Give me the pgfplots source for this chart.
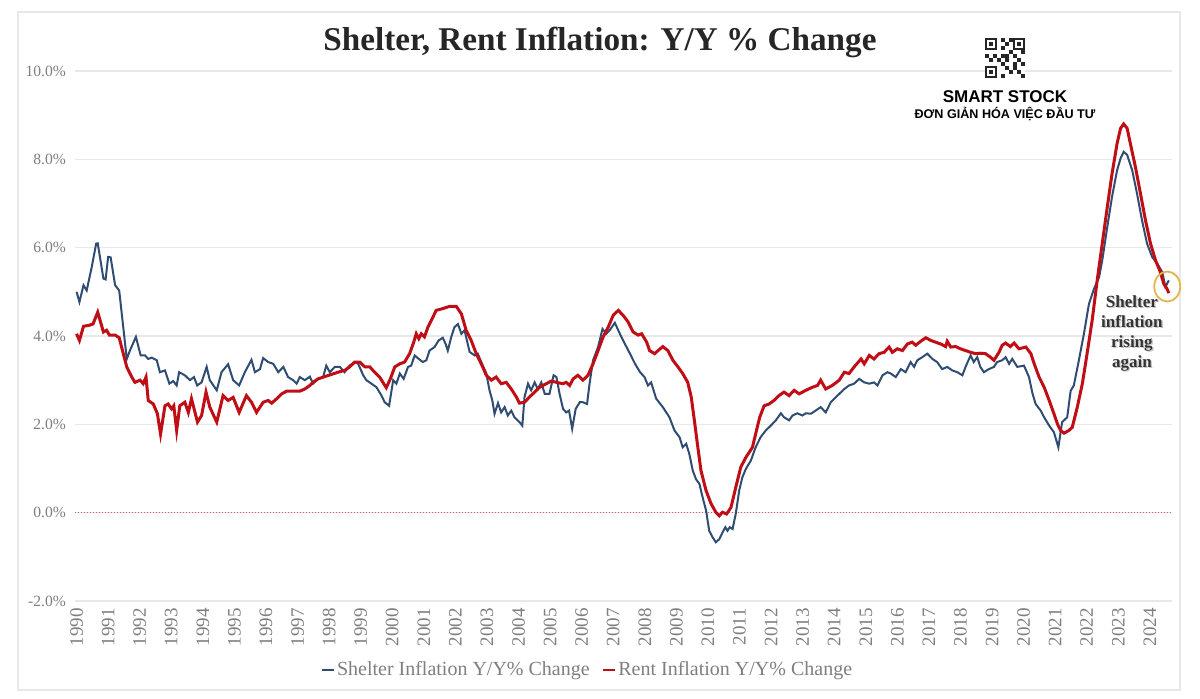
\documentclass[border=0pt]{standalone}
\usepackage{fontspec}
\setmainfont{Liberation Serif}
\newfontfamily\vnfont{Liberation Sans}
\usepackage{pgfplots}
\pgfplotsset{compat=1.18}
\definecolor{shelterblue}{HTML}{2F4D72}
\definecolor{rentred}{HTML}{C00E16}
\definecolor{ticktext}{HTML}{7F7F7F}
\definecolor{gridc}{HTML}{E8E8E8}
\definecolor{ringc}{HTML}{E2B64A}
\begin{document}
\begin{tikzpicture}
\useasboundingbox (-37.5pt,-49pt) rectangle (562.5pt,300.5pt);
\fill[white] (-37.5pt,-49pt) rectangle (562.5pt,300.5pt);
\draw[gray!18, line width=0.8pt] (-28.5pt,-44.5pt) rectangle (552.5pt,294.5pt);
\begin{axis}[
  at={(0,0)}, anchor=south west,
  scale only axis, width=548.5pt, height=265pt,
  xmin=1989.95, xmax=2024.7, ymin=-2, ymax=10, clip=false,
  axis line style={draw=none}, tick style={draw=none},
  ytick={-2,0,2,4,6,8,10},
  yticklabels={-2.0\%,0.0\%,2.0\%,4.0\%,6.0\%,8.0\%,10.0\%},
  yticklabel style={font=\fontsize{7.8}{8}\selectfont, text=ticktext, xshift=-1pt},
  xtick={1990,1991,1992,1993,1994,1995,1996,1997,1998,1999,2000,2001,2002,2003,2004,2005,2006,2007,2008,2009,2010,2011,2012,2013,2014,2015,2016,2017,2018,2019,2020,2021,2022,2023,2024},
  xticklabels={1990,1991,1992,1993,1994,1995,1996,1997,1998,1999,2000,2001,2002,2003,2004,2005,2006,2007,2008,2009,2010,2011,2012,2013,2014,2015,2016,2017,2018,2019,2020,2021,2022,2023,2024},
  xticklabel style={font=\fontsize{9.5}{10}\selectfont, text=ticktext, rotate=90, anchor=east},
  ymajorgrids, grid style={gridc, line width=0.6pt},
  legend style={at={(0.467,-0.13)}, anchor=center, draw=none, fill=none,
     font=\fontsize{10}{11}\selectfont, text=ticktext,
     /tikz/every even column/.append style={column sep=5pt},
     nodes={inner xsep=1pt}},
  legend columns=2, legend cell align=left,
  legend image code/.code={\draw[#1, line width=1.3pt] (0pt,0pt) -- (6pt,0pt);},
]
\draw[rentred!70, densely dotted, line width=0.5pt] (axis cs:1989.95,0) -- (axis cs:2024.7,0);
\addplot[shelterblue, line width=1pt] coordinates {
(1990.00,5.00)(1990.09,4.77)(1990.22,5.15)(1990.32,5.03)(1990.48,5.56)(1990.62,6.09)(1990.67,6.10)
(1990.85,5.30)(1990.92,5.28)(1991.00,5.79)(1991.08,5.78)(1991.22,5.15)(1991.35,5.03)(1991.59,3.48)
(1991.69,3.67)(1991.88,3.98)(1992.03,3.56)(1992.17,3.56)(1992.27,3.48)(1992.38,3.51)(1992.54,3.45)
(1992.64,3.18)(1992.80,3.22)(1992.94,2.92)(1993.06,2.98)(1993.17,2.88)(1993.25,3.18)(1993.43,3.11)
(1993.59,3.00)(1993.72,3.07)(1993.82,2.88)(1993.96,2.95)(1994.12,3.30)(1994.22,3.00)(1994.44,2.77)
(1994.59,3.18)(1994.80,3.36)(1994.96,3.00)(1995.15,2.88)(1995.33,3.18)(1995.54,3.46)(1995.65,3.18)
(1995.81,3.25)(1995.91,3.50)(1996.07,3.41)(1996.23,3.37)(1996.39,3.18)(1996.55,3.30)(1996.70,3.07)
(1996.86,3.00)(1996.97,2.92)(1997.07,3.07)(1997.23,3.00)(1997.39,3.08)(1997.49,2.92)(1997.65,3.03)
(1997.81,3.07)(1997.91,3.33)(1998.02,3.18)(1998.18,3.30)(1998.34,3.30)(1998.49,3.18)(1998.65,3.33)
(1998.81,3.41)(1998.92,3.37)(1999.08,3.11)(1999.18,3.00)(1999.34,2.92)(1999.50,2.84)(1999.66,2.65)
(1999.76,2.50)(1999.90,2.42)(2000.03,3.00)(2000.13,2.92)(2000.24,3.15)(2000.36,3.03)(2000.50,3.30)
(2000.60,3.33)(2000.71,3.56)(2000.84,3.48)(2000.97,3.41)(2001.08,3.45)(2001.18,3.67)(2001.34,3.75)
(2001.47,3.90)(2001.60,3.96)(2001.69,3.82)(2001.76,3.67)(2001.87,3.98)(2001.97,4.20)(2002.08,4.27)
(2002.19,4.05)(2002.29,4.13)(2002.45,3.64)(2002.61,3.56)(2002.71,3.60)(2002.82,3.41)(2002.98,3.15)
(2003.08,2.77)(2003.17,2.54)(2003.24,2.24)(2003.35,2.48)(2003.45,2.27)(2003.56,2.39)(2003.66,2.20)
(2003.77,2.31)(2003.87,2.16)(2004.03,2.05)(2004.12,1.97)(2004.19,2.62)(2004.30,2.92)(2004.40,2.77)
(2004.51,2.95)(2004.61,2.80)(2004.72,2.95)(2004.83,2.69)(2004.98,2.69)(2005.11,3.11)(2005.20,3.07)
(2005.30,2.69)(2005.41,2.35)(2005.51,2.27)(2005.60,2.31)(2005.70,1.90)(2005.81,2.35)(2005.94,2.50)
(2006.04,2.50)(2006.17,2.46)(2006.25,2.92)(2006.36,3.45)(2006.52,3.75)(2006.66,4.16)(2006.78,4.05)
(2006.89,4.13)(2007.05,4.30)(2007.21,4.05)(2007.37,3.82)(2007.53,3.60)(2007.69,3.37)(2007.85,3.18)
(2007.99,3.07)(2008.10,2.88)(2008.20,2.95)(2008.36,2.58)(2008.57,2.39)(2008.78,2.16)(2008.94,1.86)
(2009.10,1.71)(2009.20,1.48)(2009.31,1.56)(2009.41,1.33)(2009.52,0.95)(2009.62,0.76)(2009.73,0.65)
(2009.83,0.35)(2009.94,0.05)(2010.04,-0.41)(2010.15,-0.56)(2010.25,-0.67)(2010.36,-0.60)(2010.46,-0.45)
(2010.55,-0.33)(2010.62,-0.41)(2010.69,-0.33)(2010.78,-0.37)(2010.88,-0.03)(2010.99,0.50)(2011.09,0.80)
(2011.20,0.99)(2011.36,1.18)(2011.51,1.48)(2011.67,1.71)(2011.83,1.86)(2011.99,1.97)(2012.15,2.09)
(2012.31,2.25)(2012.41,2.16)(2012.57,2.09)(2012.68,2.20)(2012.83,2.25)(2012.99,2.20)(2013.10,2.25)
(2013.26,2.24)(2013.41,2.31)(2013.57,2.39)(2013.73,2.27)(2013.89,2.50)(2014.00,2.58)(2014.16,2.69)
(2014.32,2.80)(2014.47,2.88)(2014.63,2.92)(2014.79,3.03)(2014.95,2.95)(2015.11,2.92)(2015.26,2.95)
(2015.37,2.88)(2015.53,3.11)(2015.69,3.18)(2015.79,3.15)(2015.95,3.07)(2016.11,3.25)(2016.26,3.18)
(2016.42,3.41)(2016.53,3.30)(2016.63,3.45)(2016.79,3.52)(2016.95,3.60)(2017.11,3.48)(2017.26,3.41)
(2017.42,3.25)(2017.58,3.30)(2017.74,3.22)(2017.90,3.18)(2018.06,3.11)(2018.16,3.30)(2018.32,3.56)
(2018.42,3.41)(2018.53,3.52)(2018.63,3.30)(2018.74,3.18)(2018.90,3.25)(2019.06,3.30)(2019.16,3.41)
(2019.32,3.45)(2019.43,3.52)(2019.54,3.37)(2019.64,3.48)(2019.80,3.30)(2020.01,3.33)(2020.17,3.07)
(2020.28,2.70)(2020.38,2.46)(2020.54,2.31)(2020.65,2.16)(2020.81,1.97)(2020.96,1.82)(2021.10,1.48)
(2021.22,2.05)(2021.38,2.16)(2021.49,2.76)(2021.59,2.88)(2021.75,3.45)(2021.91,4.05)(2022.07,4.73)
(2022.23,5.07)(2022.39,5.33)(2022.49,5.71)(2022.65,6.47)(2022.80,7.15)(2022.96,7.75)(2023.07,8.02)
(2023.17,8.17)(2023.28,8.10)(2023.44,7.75)(2023.59,7.23)(2023.75,6.62)(2023.91,6.09)(2024.07,5.79)
(2024.23,5.64)(2024.39,5.45)(2024.49,5.11)(2024.60,5.26)
};
\addlegendentry{Shelter Inflation Y/Y\% Change}
\addplot[rentred, line width=1.5pt] coordinates {
(1990.00,4.05)(1990.09,3.90)(1990.22,4.22)(1990.38,4.24)(1990.52,4.27)(1990.67,4.54)(1990.85,4.09)
(1990.95,4.13)(1991.04,4.02)(1991.22,4.02)(1991.35,3.96)(1991.48,3.60)(1991.59,3.30)(1991.67,3.18)
(1991.75,3.07)(1991.85,2.95)(1992.01,3.00)(1992.11,2.92)(1992.20,3.07)(1992.27,2.54)(1992.43,2.46)
(1992.56,2.24)(1992.66,1.78)(1992.80,2.42)(1992.90,2.46)(1993.01,2.35)(1993.08,2.42)(1993.17,1.86)
(1993.27,2.42)(1993.43,2.50)(1993.54,2.27)(1993.64,2.58)(1993.83,2.05)(1993.96,2.20)(1994.10,2.73)
(1994.22,2.39)(1994.44,2.05)(1994.64,2.65)(1994.80,2.54)(1994.96,2.61)(1995.15,2.27)(1995.38,2.65)
(1995.54,2.50)(1995.70,2.27)(1995.91,2.50)(1996.07,2.54)(1996.18,2.48)(1996.34,2.58)(1996.50,2.69)
(1996.65,2.75)(1996.86,2.75)(1997.07,2.75)(1997.23,2.80)(1997.39,2.88)(1997.49,2.95)(1997.65,3.03)
(1997.86,3.08)(1998.07,3.13)(1998.28,3.18)(1998.49,3.22)(1998.65,3.30)(1998.81,3.41)(1998.97,3.41)
(1999.13,3.30)(1999.29,3.30)(1999.44,3.18)(1999.60,3.07)(1999.73,2.92)(1999.81,2.83)(1999.94,3.03)
(2000.08,3.30)(2000.24,3.37)(2000.39,3.41)(2000.55,3.60)(2000.68,3.86)(2000.76,4.05)(2000.84,3.94)
(2000.92,4.05)(2001.02,3.98)(2001.13,4.20)(2001.29,4.43)(2001.39,4.58)(2001.60,4.62)(2001.81,4.67)
(2002.03,4.67)(2002.19,4.50)(2002.34,4.13)(2002.50,3.90)(2002.66,3.60)(2002.82,3.37)(2002.98,3.11)
(2003.14,3.00)(2003.29,3.07)(2003.45,2.92)(2003.61,2.95)(2003.77,2.80)(2003.93,2.62)(2004.03,2.48)
(2004.19,2.50)(2004.35,2.62)(2004.51,2.73)(2004.67,2.84)(2004.88,2.92)(2005.04,2.98)(2005.20,2.95)
(2005.41,2.92)(2005.51,2.95)(2005.62,2.88)(2005.73,3.03)(2005.88,3.11)(2006.04,3.00)(2006.20,3.11)
(2006.36,3.37)(2006.52,3.67)(2006.68,3.98)(2006.84,4.20)(2007.00,4.47)(2007.16,4.58)(2007.31,4.47)
(2007.47,4.32)(2007.63,4.09)(2007.79,4.02)(2007.90,4.05)(2008.06,3.86)(2008.15,3.67)(2008.31,3.60)
(2008.42,3.67)(2008.57,3.76)(2008.73,3.67)(2008.89,3.45)(2009.05,3.30)(2009.20,3.15)(2009.36,2.95)
(2009.47,2.62)(2009.57,2.09)(2009.68,1.48)(2009.78,0.95)(2009.94,0.50)(2010.10,0.20)(2010.25,0.01)
(2010.36,-0.07)(2010.46,0.01)(2010.59,-0.03)(2010.73,0.12)(2010.88,0.57)(2011.04,1.03)(2011.20,1.25)
(2011.41,1.48)(2011.51,1.78)(2011.64,2.16)(2011.78,2.42)(2011.94,2.46)(2012.09,2.54)(2012.25,2.65)
(2012.41,2.73)(2012.57,2.65)(2012.73,2.77)(2012.89,2.69)(2013.10,2.77)(2013.31,2.84)(2013.47,2.88)
(2013.57,3.00)(2013.73,2.80)(2013.94,2.88)(2014.16,3.00)(2014.32,3.18)(2014.47,3.15)(2014.63,3.30)
(2014.85,3.48)(2014.95,3.37)(2015.11,3.56)(2015.26,3.48)(2015.42,3.60)(2015.58,3.63)(2015.74,3.75)
(2015.84,3.63)(2016.00,3.71)(2016.16,3.67)(2016.32,3.82)(2016.47,3.86)(2016.58,3.79)(2016.74,3.88)
(2016.90,3.96)(2017.06,3.90)(2017.21,3.86)(2017.37,3.82)(2017.53,3.76)(2017.58,3.88)(2017.69,3.75)
(2017.85,3.76)(2018.00,3.71)(2018.16,3.67)(2018.32,3.63)(2018.48,3.60)(2018.63,3.61)(2018.79,3.60)
(2018.95,3.52)(2019.06,3.45)(2019.22,3.63)(2019.32,3.79)(2019.43,3.84)(2019.58,3.76)(2019.70,3.84)
(2019.85,3.71)(2020.07,3.75)(2020.23,3.60)(2020.33,3.38)(2020.49,3.07)(2020.65,2.84)(2020.81,2.54)
(2020.96,2.24)(2021.07,2.01)(2021.17,1.86)(2021.28,1.80)(2021.43,1.86)(2021.54,1.93)(2021.70,2.39)
(2021.86,2.92)(2022.01,3.60)(2022.17,4.35)(2022.33,5.26)(2022.49,6.09)(2022.65,6.92)(2022.80,7.67)
(2022.96,8.36)(2023.07,8.70)(2023.17,8.80)(2023.28,8.70)(2023.38,8.36)(2023.54,7.83)(2023.70,7.23)
(2023.86,6.62)(2024.02,6.09)(2024.18,5.71)(2024.33,5.45)(2024.44,5.18)(2024.54,5.07)(2024.60,4.97)
};
\addlegendentry{Rent Inflation Y/Y\% Change}
\draw[ringc, line width=0.9pt] (axis cs:2024.55,5.12) ellipse [x radius=6.5pt, y radius=7.5pt];
\node[text=gray!60, opacity=0.7, align=center, font=\fontsize{8.5}{10}\selectfont\bfseries] at ([xshift=0.7pt,yshift=-0.7pt]axis cs:2023.43,4.06) {Shelter\\inflation\\rising\\again};
\node[text=black!80, align=center, font=\fontsize{8.5}{10}\selectfont\bfseries] at (axis cs:2023.43,4.06) {Shelter\\inflation\\rising\\again};
\end{axis}
\node[font=\fontsize{16.6}{18}\selectfont\bfseries, text=black!85] at (262.5pt,279.5pt) {Shelter, Rent Inflation: Y/Y \% Change};
\node[font=\vnfont\bfseries\fontsize{8.5}{9}\selectfont] at (465pt,252pt) {SMART STOCK};
\node[font=\vnfont\bfseries\fontsize{6.3}{7}\selectfont] at (465pt,243.5pt) {ĐƠN GIẢN HÓA VIỆC ĐẦU TƯ};
% QR-like logo
\begin{scope}[shift={(455pt,261.5pt)}]
\fill[white] (0,0) rectangle (20pt,20pt);
\foreach \a/\b in {0/14,14/14,0/0}{
  \fill[black!85] (\a pt,\b pt) rectangle ++(6pt,6pt);
  \fill[white] (\a pt+1pt,\b pt+1pt) rectangle ++(4pt,4pt);
  \fill[black!85] (\a pt+2pt,\b pt+2pt) rectangle ++(2pt,2pt);}
\foreach \a/\b in {8/18,10/16,8/14,12/12,8/10,10/8,14/10,16/8,18/12,6/8,2/8,0/10,4/10,8/6,10/4,12/2,8/0,14/4,16/2,18/6,18/0,16/16,12/18,10/10,14/6}{
  \fill[black!85] (\a pt,\b pt) rectangle ++(2pt,2pt);}
\end{scope}
\end{tikzpicture}
\end{document}
